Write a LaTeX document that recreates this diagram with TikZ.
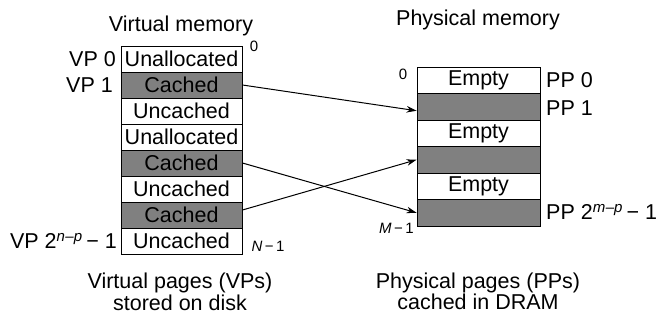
\documentclass[tikz,border=0pt]{standalone}
\usepackage{fontspec}
\setmainfont{Liberation Sans}
\usetikzlibrary{arrows.meta}
\begin{document}
\begin{tikzpicture}[x=1pt,y=-1pt,
  every node/.style={font=\fontsize{21.5}{24}\selectfont, inner sep=0pt},
  vrow/.style={draw, line width=0.9pt, minimum width=121pt, minimum height=26pt},
  prow/.style={draw, line width=0.9pt, minimum width=123pt, minimum height=26.5pt},
  small/.style={font=\fontsize{15}{17}\selectfont},
  link/.style={line width=1pt, -{Stealth[length=10pt,width=6.5pt]}}]
\useasboundingbox[fill=white] (0,0) rectangle (657,322);
\colorlet{hatch}{black!50}
% virtual memory rows
\foreach \i/\t/\s in {0/Unallocated/white,1/Cached/hatch,2/Uncached/white,3/Unallocated/white,4/Cached/hatch,5/Uncached/white,6/Cached/hatch,7/Uncached/white}
  \node[vrow, fill=\s] (v\i) at (181.5,{59+26*\i}) {\t};
% physical memory rows
\foreach \i/\t/\s in {0/Empty/white,1/{}/hatch,2/Empty/white,3/{}/hatch,4/Empty/white,5/{}/hatch}
  \node[prow, fill=\s] (p\i) at (478.5,{80.25+26.5*\i}) {\t};
% titles
\node (vt) at (181,26) {Virtual memory};
\node (pt) at (478,20) {Physical memory};
% virtual labels
\node[small] (z0) at (254,46) {0};
\node[anchor=east] (vp0) at (116,59) {VP 0};
\node[anchor=east] (vp1) at (113,85) {VP 1};
\node[anchor=east] (vpn) at (117,241) {VP 2\textsuperscript{\itshape n\kern0.5pt–p}\,− 1};
\node[small] (nm) at (268,246) {\itshape N\upshape\,−\,1};
\node (vc1) at (180,283) {Virtual pages (VPs)};
\node (vc2) at (180,303) {stored on disk};
% physical labels
\node[small] (z1) at (403,74) {0};
\node[anchor=west] (pp0) at (546,80) {PP 0};
\node[anchor=west] (pp1) at (546,108) {PP 1};
\node[anchor=west] (ppm) at (546,212) {PP 2\textsuperscript{\itshape m\kern0.5pt–p}\,− 1};
\node[small,anchor=east] (mm) at (414,228) {\itshape M\upshape\,−\,1};
\node (pc1) at (478,283) {Physical pages (PPs)};
\node (pc2) at (478,302) {cached in DRAM};
% mappings
\draw[link] (v1.east) -- ([yshift=-4pt]p1.west);
\draw[link] (v4.east) -- (p5.west);
\draw[link] ([yshift=5pt]v6.east) -- (p3.west);
\end{tikzpicture}
\end{document}
